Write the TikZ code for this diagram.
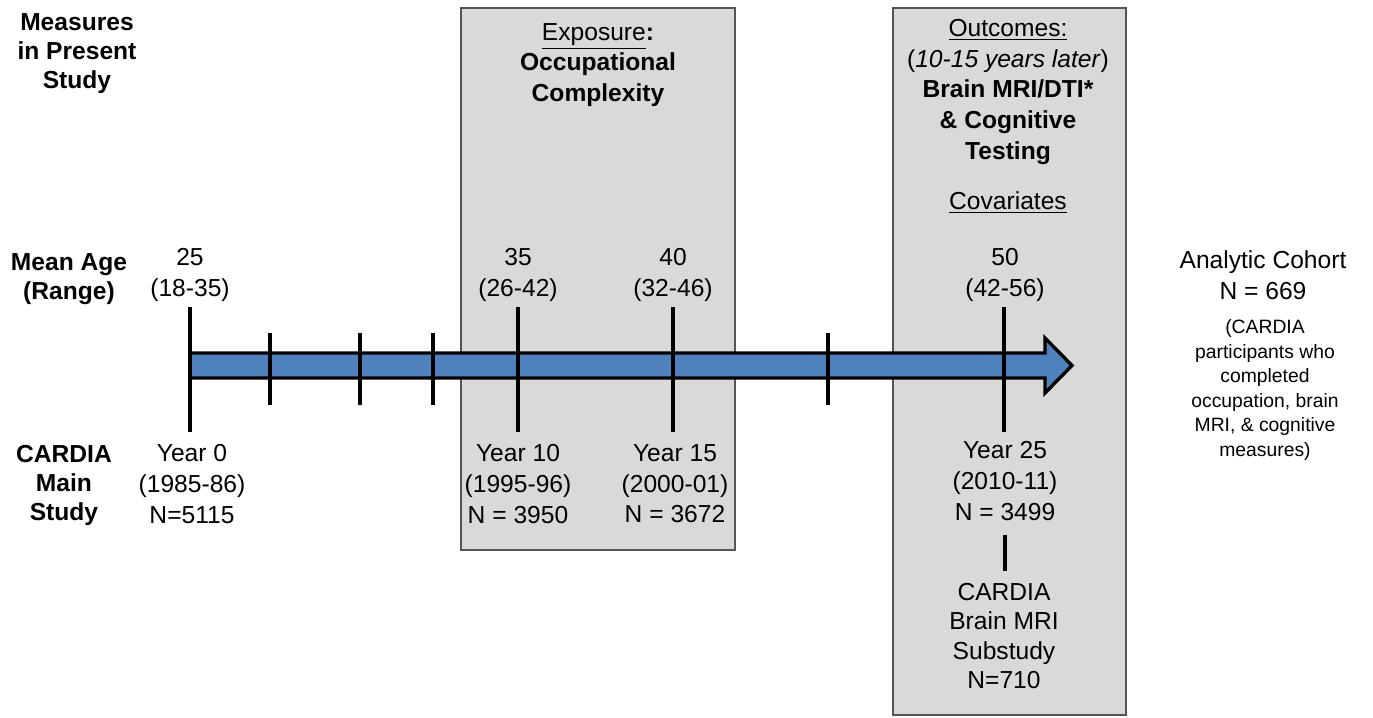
\documentclass[tikz,border=0pt]{standalone}
\usepackage{fontspec}
\setmainfont{Liberation Sans}
\usepackage{tikz}
\usetikzlibrary{positioning}
\usepackage{xcolor}
\definecolor{TimelineBlue}{HTML}{4F81BD}
\definecolor{PanelGray}{HTML}{D9D9D9}
\definecolor{PanelEdge}{HTML}{555555}
\tikzset{
    % Panel styles
    panelbox/.style={
        draw=PanelEdge,
        fill=PanelGray,
        line width=1.1pt
    },
    % Text styles
    rowlabel/.style={
        align=center,
        inner sep=0pt,
        font=\fontsize{14}{16.5}\selectfont\bfseries
    },
    waveinfo/.style={
        align=center,
        inner sep=0pt,
        font=\fontsize{14}{17.4}\selectfont
    },
    substudyinfo/.style={
        align=center,
        inner sep=0pt,
        font=\fontsize{14}{16.6}\selectfont
    },
    cohortnote/.style={
        align=center,
        inner sep=0pt,
        font=\fontsize{11}{14}\selectfont
    },
    % Timeline styles
    timearrow/.style={
        draw=black,
        fill=TimelineBlue,
        line width=1.9pt,
        line join=miter
    },
    longtick/.style={
        draw=black,
        line width=2.8pt
    },
    shorttick/.style={
        draw=black,
        line width=2.8pt
    }
}

\begin{document}
\begin{tikzpicture}[x=0.02cm, y=-0.02cm]
    \useasboundingbox (0,0) rectangle (1373,717);

    % Panels
    \draw[panelbox] (461,8) rectangle (735,550);
    \draw[panelbox] (893,8) rectangle (1126,715);

    % Row labels
    \node[rowlabel] (measures) at (77,54) {Measures\\in Present\\Study};
    \node[rowlabel] (meanage) at (69,279) {Mean Age\\(Range)};
    \node[rowlabel] (cardia) at (64,485) {CARDIA\\Main\\Study};

    % Panel headings
    \node[waveinfo] (exposure) at (598,65)
        {\underline{Exposure}\textbf{:}\\\textbf{Occupational}\\\textbf{Complexity}};
    \node[waveinfo] (outcomes) at (1008,92)
        {\underline{Outcomes:}\\(\textit{10-15 years later})\\\textbf{Brain MRI/DTI*}\\\textbf{\& Cognitive}\\\textbf{Testing}};
    \node[waveinfo, below=15pt of outcomes] (covariates) {\underline{Covariates}};

    % Timeline
    \draw[timearrow] (190,353) -- (1045,353) -- (1045,338) -- (1072,365.5)
        -- (1045,393) -- (1045,378) -- (190,378) -- cycle;
    \foreach \x in {190,518,673,1004}
        \draw[longtick] (\x,307) -- (\x,432);
    \foreach \x in {270,360,433,828}
        \draw[shorttick] (\x,333) -- (\x,405);

    % Mean age at each exam
    \node[waveinfo] (age0) at (190,275) {25\\(18-35)};
    \node[waveinfo] (age10) at (518,275) {35\\(26-42)};
    \node[waveinfo] (age15) at (673,275) {40\\(32-46)};
    \node[waveinfo] (age25) at (1005,275) {50\\(42-56)};

    % Exam years and sample sizes
    \node[waveinfo] (year0) at (192,484) {Year 0\\(1985-86)\\N=5115};
    \node[waveinfo] (year10) at (518,484) {Year 10\\(1995-96)\\N = 3950};
    \node[waveinfo] (year15) at (675,484) {Year 15\\(2000-01)\\N = 3672};
    \node[waveinfo] (year25) at (1005,481) {Year 25\\(2010-11)\\N = 3499};
    \node[substudyinfo] (substudy) at (1004,636) {CARDIA\\Brain MRI\\Substudy\\N=710};
    \draw[longtick, shorten <=8pt, shorten >=7pt]
        (year25.south) -- (year25.south |- substudy.north);

    % Analytic cohort
    \node[waveinfo] (cohort) at (1263,275) {Analytic Cohort\\N = 669};
    \node[cohortnote] (cohortinfo) at (1265,390)
        {(CARDIA\\participants who\\completed\\occupation, brain\\MRI, \& cognitive\\measures)};
\end{tikzpicture}
\end{document}
